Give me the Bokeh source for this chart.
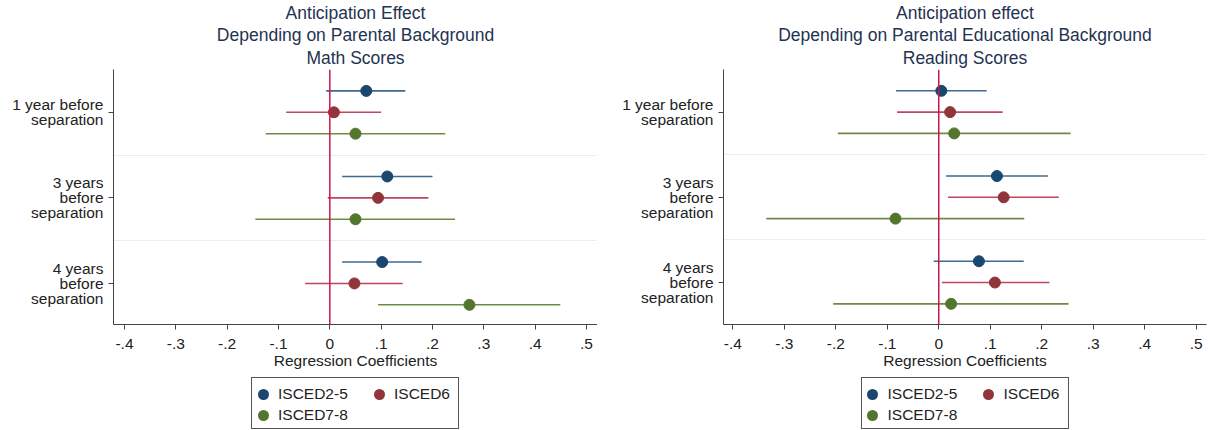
from bokeh.plotting import figure
from bokeh.models import FixedTicker, Span, ColumnDataSource, Title, Div
from bokeh.layouts import row, column
from bokeh.embed import file_html
from bokeh.resources import INLINE

# ---------------- data ----------------
groups = ["1 year before\nseparation", "3 years\nbefore\nseparation", "4 years\nbefore\nseparation"]
series = ["ISCED2-5", "ISCED6", "ISCED7-8"]
point_colors = ["#1a476f", "#90353b", "#55752f"]
ci_colors = ["#41698c", "#c0465c", "#6e8b46"]

x_ticks = [-0.4, -0.3, -0.2, -0.1, 0.0, 0.1, 0.2, 0.3, 0.4, 0.5]
x_tick_labels = ["-.4", "-.3", "-.2", "-.1", "0", ".1", ".2", ".3", ".4", ".5"]

math_title = ["Anticipation Effect", "Depending on Parental Background", "Math Scores"]
read_title = ["Anticipation effect", "Depending on Parental Educational Background", "Reading Scores"]

# Math scores (per group: 1 yr, 3 yrs, 4 yrs before separation)
math_isced25_coef = [0.071, 0.112, 0.102]
math_isced25_lo = [-0.007, 0.024, 0.024]
math_isced25_hi = [0.147, 0.200, 0.179]
math_isced6_coef = [0.008, 0.094, 0.048]
math_isced6_lo = [-0.085, -0.004, -0.048]
math_isced6_hi = [0.100, 0.192, 0.142]
math_isced78_coef = [0.050, 0.050, 0.272]
math_isced78_lo = [-0.125, -0.145, 0.094]
math_isced78_hi = [0.225, 0.244, 0.449]

# Reading scores
read_isced25_coef = [0.005, 0.113, 0.078]
read_isced25_lo = [-0.083, 0.014, -0.010]
read_isced25_hi = [0.093, 0.212, 0.165]
read_isced6_coef = [0.022, 0.126, 0.109]
read_isced6_lo = [-0.081, 0.018, 0.006]
read_isced6_hi = [0.124, 0.233, 0.215]
read_isced78_coef = [0.030, -0.084, 0.024]
read_isced78_lo = [-0.196, -0.335, -0.205]
read_isced78_hi = [0.256, 0.166, 0.252]

FONT = "Liberation Sans"
TITLE_COLOR = "#1f3352"
TEXT_COLOR = "#222222"

PLOT_H = 375
LEG_H = 55


def style_title(t, standoff):
    t.align = "center"
    t.text_font = FONT
    t.text_font_size = "17.5px"
    t.text_font_style = "normal"
    t.text_color = TITLE_COLOR
    t.text_line_height = 1.03
    t.standoff = standoff
    t.offset = 0


def legend_div(width, mb_left, mb_right):
    box_w, box_h = 208, 52
    col_step, row_step = 116, 21
    frame_center = mb_left + (width - mb_left - mb_right) / 2
    left = frame_center - box_w / 2
    items = []
    for i, name in enumerate(series):
        c, r = i % 2, i // 2
        cy = 16 + r * row_step
        items.append(
            f'<span style="position:absolute;left:{11 + c * col_step - 5.5}px;top:{cy - 5.5}px;'
            f'width:11px;height:11px;border-radius:50%;background:{point_colors[i]};"></span>'
            f'<span style="position:absolute;left:{26 + c * col_step}px;top:{cy - 9}px;'
            f'line-height:18px;white-space:nowrap;">{name}</span>')
    html = (f'<div style="position:relative;width:{width}px;height:{LEG_H}px;">'
            f'<div style="position:absolute;left:{left}px;top:2px;width:{box_w}px;height:{box_h}px;'
            f'box-sizing:border-box;border:1px solid #555555;background:white;'
            f'font-family:\'{FONT}\';font-size:15.5px;color:{TEXT_COLOR};">'
            + "".join(items) + '</div></div>')
    return Div(text=html, width=width, height=LEG_H, margin=0)


def make_panel(title_lines, coefs, los, his, width, mb_left, mb_right, x_range, y_range):
    n = len(groups)
    slot = len(series) + 1
    p = figure(width=width, height=PLOT_H, x_range=x_range, y_range=y_range,
               output_backend="svg", toolbar_location=None,
               min_border_left=mb_left, min_border_right=mb_right,
               min_border_top=65, min_border_bottom=51)
    if "frame_align" in type(p).properties():
        p.frame_align = False
    p.outline_line_color = None

    p.title.text = title_lines[0]
    style_title(p.title, 0)
    for k, line in enumerate(reversed(title_lines[1:])):
        t = Title(text=line)
        style_title(t, 3 if k == 0 else 0)
        p.add_layout(t, "above")

    seps = [slot * k for k in range(1, n)]
    p.xgrid.visible = False
    p.ygrid.ticker = FixedTicker(ticks=seps)
    p.ygrid.grid_line_color = "#e9eff1"

    p.add_layout(Span(location=0, dimension="height", line_color="#c8174a", line_width=1.5))

    for s, name in enumerate(series):
        ys = [(n - g) * slot - 2 + (1 - s) for g in range(n)]
        src = ColumnDataSource(dict(y=ys, c=coefs[s], lo=los[s], hi=his[s]))
        p.segment(x0="lo", y0="y", x1="hi", y1="y", source=src,
                  line_color=ci_colors[s], line_width=1.6)
        p.scatter(x="c", y="y", source=src, size=11, marker="circle",
                  fill_color=point_colors[s], line_color=point_colors[s])

    centers = [(n - g) * slot - 2 for g in range(n)]
    p.yaxis.ticker = FixedTicker(ticks=centers)
    p.yaxis.major_label_overrides = {c: lab for c, lab in zip(centers, groups)}
    p.yaxis.minor_tick_line_color = None
    p.yaxis.major_label_text_line_height = 0.88
    p.xaxis.ticker = FixedTicker(ticks=x_ticks)
    p.xaxis.major_label_overrides = {t: lab for t, lab in zip(x_ticks, x_tick_labels)}
    p.xaxis.minor_tick_line_color = None
    for ax in (p.xaxis[0], p.yaxis[0]):
        ax.axis_line_color = "#444444"
        ax.major_tick_line_color = "#444444"
        ax.major_tick_out = 5
        ax.major_tick_in = 0
        ax.major_label_text_font = FONT
        ax.major_label_text_font_size = "15.5px"
        ax.major_label_text_color = TEXT_COLOR
    p.xaxis.major_label_standoff = 9
    p.xaxis.major_label_text_line_height = 0.9
    p.xaxis.axis_label = "Regression Coefficients"
    p.xaxis.axis_label_text_font = FONT
    p.xaxis.axis_label_text_font_size = "15.5px"
    p.xaxis.axis_label_text_font_style = "normal"
    p.xaxis.axis_label_text_color = TEXT_COLOR
    p.xaxis.axis_label_text_line_height = 0.9
    p.xaxis.axis_label_standoff = 0

    return column(p, legend_div(width, mb_left, mb_right), spacing=0)


left = make_panel(
    math_title,
    [math_isced25_coef, math_isced6_coef, math_isced78_coef],
    [math_isced25_lo, math_isced6_lo, math_isced78_lo],
    [math_isced25_hi, math_isced6_hi, math_isced78_hi],
    width=597, mb_left=113, mb_right=0,
    x_range=(-0.4214, 0.5215), y_range=(0.08, 12.0))

right = make_panel(
    read_title,
    [read_isced25_coef, read_isced6_coef, read_isced78_coef],
    [read_isced25_lo, read_isced6_lo, read_isced78_lo],
    [read_isced25_hi, read_isced6_hi, read_isced78_hi],
    width=611, mb_left=126, mb_right=2,
    x_range=(-0.418, 0.5199), y_range=(0.03, 12.0))

layout = row(left, right, spacing=0)
open("out.html", "w").write(file_html(layout, INLINE))
